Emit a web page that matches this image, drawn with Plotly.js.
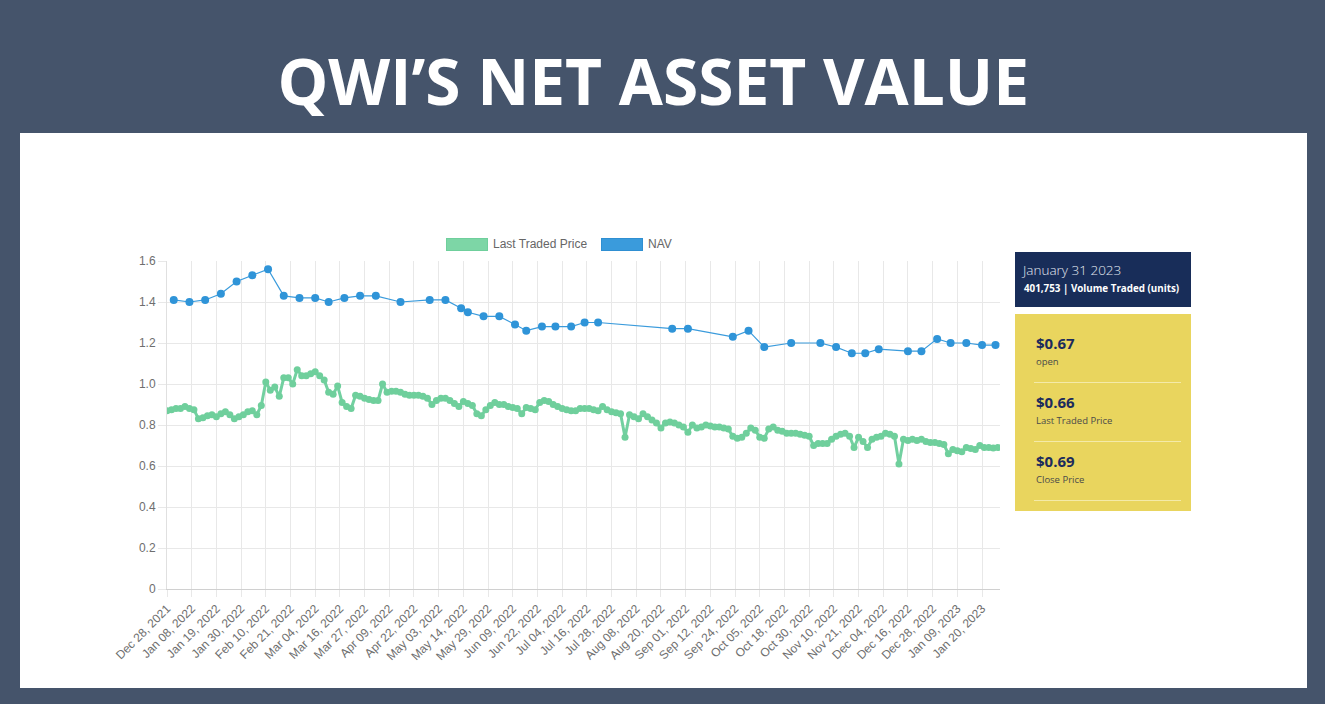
<!DOCTYPE html>
<html><head><meta charset="utf-8">
<script src="https://cdn.plot.ly/plotly-3.0.1.min.js"></script>
<style>
html,body{margin:0;padding:0;}
body{width:1325px;height:704px;background:#45546b;position:relative;overflow:hidden;font-family:'Open Sans',sans-serif;}
#panel{position:absolute;left:20px;top:133px;width:1287px;height:555px;background:#ffffff;}
#chart{position:absolute;left:0;top:0;width:1325px;height:704px;}
.lg{position:absolute;font-family:'Liberation Sans',Arial,sans-serif;font-size:12px;color:#666;line-height:12px;}
.box{position:absolute;height:11px;width:40px;}
#navy{position:absolute;left:1015px;top:252px;width:176px;height:55px;background:#182d59;}
#navy .d{position:absolute;left:8px;top:9px;font-size:13.5px;font-weight:300;color:#e3e8f0;}
#navy .v{position:absolute;left:9px;top:30px;font-size:9.8px;font-weight:700;color:#ffffff;}
#yel{position:absolute;left:1015px;top:314px;width:176px;height:197px;background:#e9d55e;}
.it{position:absolute;left:19px;width:147px;border-bottom:1.5px solid #f4eaa8;height:58px;}
.it .p{position:absolute;left:2px;top:9px;font-size:15px;font-weight:700;color:#1c2b5c;}
.it .l{position:absolute;left:2px;top:31px;font-size:9.5px;color:#4a4a4a;}
</style>
</head><body>
<div id="panel"></div>
<div id="chart"></div>
<div class="box" style="left:446px;top:238px;background:#7dd6a6;border:1px solid #6fcf9c;"></div>
<div class="lg" style="left:493px;top:238px;">Last Traded Price</div>
<div class="box" style="left:601px;top:238px;background:#3a9bdc;border:1px solid #2f8fd2;"></div>
<div class="lg" style="left:648px;top:238px;">NAV</div>
<div id="navy"><div class="d">January 31 2023</div><div class="v">401,753 | Volume Traded (units)</div></div>
<div id="yel">
  <div class="it" style="top:10px;"><div class="p">$0.67</div><div class="l">open</div></div>
  <div class="it" style="top:69px;"><div class="p">$0.66</div><div class="l">Last Traded Price</div></div>
  <div class="it" style="top:128px;"><div class="p">$0.69</div><div class="l">Close Price</div></div>
</div>
<script>
// X-axis tick labels (every 11th trading day shown)
const tickLabels = ["Dec 28, 2021","Jan 08, 2022","Jan 19, 2022","Jan 30, 2022","Feb 10, 2022","Feb 21, 2022",
  "Mar 04, 2022","Mar 16, 2022","Mar 27, 2022","Apr 09, 2022","Apr 22, 2022","May 03, 2022","May 14, 2022",
  "May 29, 2022","Jun 09, 2022","Jun 22, 2022","Jul 04, 2022","Jul 16, 2022","Jul 28, 2022","Aug 08, 2022",
  "Aug 20, 2022","Sep 01, 2022","Sep 12, 2022","Sep 24, 2022","Oct 05, 2022","Oct 18, 2022","Oct 30, 2022",
  "Nov 10, 2022","Nov 21, 2022","Dec 04, 2022","Dec 16, 2022","Dec 28, 2022","Jan 09, 2023","Jan 20, 2023"];
const labelStride = 11;   // trading days between shown labels
const lastDay = 371;      // last trading-day index in the chart

// Last Traded Price, every 2nd trading day (day index 0,2,4,...)
const ltpValues = [
  0.87,0.875,0.88,0.88,0.89,0.88,0.875,0.83,0.835,0.845,0.85,0.84,0.855,0.865,0.85,0.83,0.84,0.85,0.865,0.87,
  0.85,0.895,1.01,0.97,0.985,0.94,1.03,1.03,1.00,1.07,1.04,1.04,1.05,1.06,1.04,1.02,0.96,0.95,0.99,0.91,
  0.89,0.88,0.945,0.94,0.93,0.925,0.92,
  0.92,1.00,0.96,0.965,0.965,0.96,0.95,0.945,0.945,0.945,0.94,0.93,0.90,0.92,0.93,0.93,0.92,0.905,0.89,0.915,
  0.905,0.895,0.855,0.845,0.875,0.895,0.91,0.90,0.90,0.89,0.885,0.88,0.855,0.885,0.88,0.875,0.91,0.92,0.915,
  0.90,0.89,0.88,0.875,0.87,0.87,0.88,
  0.88,0.88,0.875,0.87,0.89,0.875,0.865,0.86,0.855,0.74,0.85,0.84,0.83,0.855,0.84,0.825,0.81,0.785,0.81,0.815,
  0.81,0.80,0.79,0.765,0.80,0.785,0.79,0.80,0.795,0.79,0.79,0.785,0.78,0.745,0.735,0.74,0.76,0.785,0.775,0.74,
  0.735,0.78,0.79,0.775,0.77,0.76,0.76,
  0.76,0.755,0.75,0.745,0.70,0.71,0.71,0.71,0.73,0.745,0.755,0.76,0.745,0.69,0.74,0.72,0.69,0.73,0.74,0.745,
  0.76,0.755,0.745,0.61,0.73,0.725,0.73,0.725,0.73,0.72,0.715,0.715,0.71,0.705,0.66,0.68,0.675,0.67,0.69,0.685,
  0.68,0.70,0.69,0.69,0.688,0.69];
const ltpDays = ltpValues.map((_, k) => k * 2);

// NAV: trading-day index where NAV was published, and its value
const navDays = [3,10,17,24,31,38,45,52,59,66,72,79,86,93,104,117,124,131,134,141,148,155,160,167,173,180,186,192,
  225,232,252,259,266,278,291,298,305,311,317,330,336,343,349,356,363,369];
const navValues = [1.41,1.40,1.41,1.44,1.50,1.53,1.56,1.43,1.42,1.42,1.40,1.42,1.43,1.43,1.40,1.41,1.41,1.37,1.35,1.33,
  1.33,1.29,1.26,1.28,1.28,1.28,1.30,1.30,1.27,1.27,1.23,1.26,1.18,1.20,1.20,1.18,1.15,1.15,1.17,1.16,1.16,1.22,1.20,
  1.20,1.19,1.19];

const yTickVals = [0,0.2,0.4,0.6,0.8,1.0,1.2,1.4,1.6];
const yTickText = ["0","0.2","0.4","0.6","0.8","1.0","1.2","1.4","1.6"];

const tickVals = tickLabels.map((_, k) => k * labelStride);

const traces = [
  {x: ltpDays, y: ltpValues, name: "Last Traded Price", type: "scatter", mode: "lines+markers",
   line: {color: "#72d0a0", width: 3}, marker: {color: "#6fcf9c", size: 7, symbol: "circle"},
   hoverinfo: "skip"},
  {x: navDays, y: navValues, name: "NAV", type: "scatter", mode: "lines+markers",
   line: {color: "#3a9bdc", width: 1.2}, marker: {color: "#2f94d8", size: 8},
   hoverinfo: "skip"}
];

const axisFont = {family: "Liberation Sans, Arial, sans-serif", size: 12, color: "#6e6e6e"};
const layout = {
  width: 1325, height: 704,
  margin: {l: 167, r: 325, t: 261, b: 115, pad: 0},
  paper_bgcolor: "rgba(0,0,0,0)", plot_bgcolor: "rgba(0,0,0,0)",
  showlegend: false,
  title: {text: "<b>QWI’S NET ASSET VALUE</b>", x: 0.493, xanchor: "center", y: 0.882, yref: "container", yanchor: "middle",
          font: {family: "Open Sans, sans-serif", size: 64, color: "#ffffff"}},
  xaxis: {range: [0, lastDay], tickvals: tickVals, ticktext: tickLabels, tickangle: -45,
          showgrid: true, gridcolor: "#e8e8e8", gridwidth: 1, zeroline: false,
          showline: true, linecolor: "#d0d0d0", linewidth: 1,
          ticks: "outside", ticklen: 7, tickcolor: "#e8e8e8", tickfont: axisFont, fixedrange: true},
  yaxis: {range: [0, 1.6], tickvals: yTickVals, ticktext: yTickText,
          showgrid: true, gridcolor: "#e8e8e8", zeroline: false,
          showline: true, linecolor: "#e0e0e0",
          ticks: "outside", ticklen: 8, tickcolor: "#e8e8e8", tickfont: axisFont, fixedrange: true}
};
Plotly.newPlot("chart", traces, layout, {staticPlot: true, displayModeBar: false});
</script>
</body></html>
